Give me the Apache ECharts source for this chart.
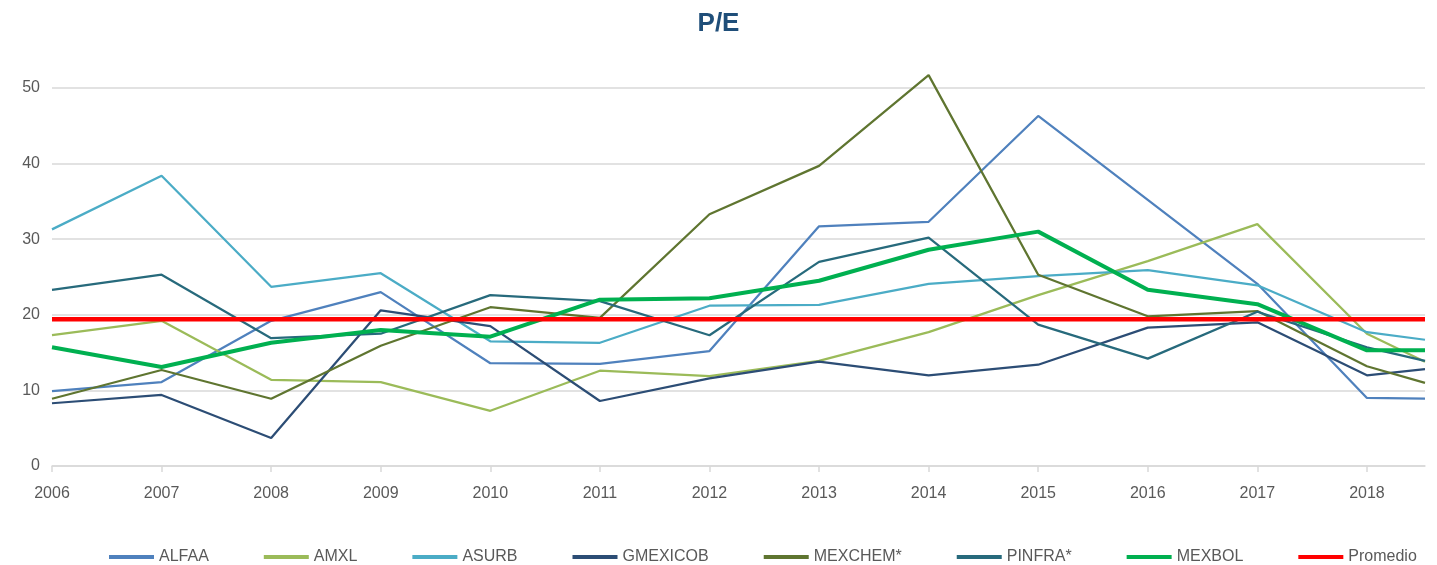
<!DOCTYPE html>
<html>
<head>
<meta charset="utf-8">
<script src="https://cdn.jsdelivr.net/npm/echarts@6/dist/echarts.min.js"></script>
<style>
html, body { margin: 0; padding: 0; background: #fff; }
#chart { width: 1437px; height: 565px; }
</style>
</head>
<body>
<div id="chart"></div>
<script>
// x positions: 2006..2018 plus the partial last period at the right edge
var years = [2006, 2007, 2008, 2009, 2010, 2011, 2012, 2013, 2014, 2015, 2016, 2017, 2018, 2018.53];

var alfaa    = [9.9, 11.1, 19.2, 23.0, 13.6, 13.5, 15.2, 31.7, 32.3, 46.3, 35.2, 24.1, 9.0, 8.9];
var amxl     = [17.3, 19.2, 11.4, 11.1, 7.3, 12.6, 11.9, 13.9, 17.7, 22.6, 27.1, 32.0, 17.5, 13.8];
var asurb    = [31.3, 38.4, 23.7, 25.5, 16.5, 16.3, 21.2, 21.3, 24.1, 25.1, 25.9, 23.9, 17.7, 16.7];
var gmexicob = [8.3, 9.4, 3.7, 20.6, 18.5, 8.6, 11.6, 13.8, 12.0, 13.4, 18.3, 19.0, 12.0, 12.8];
var mexchem  = [8.9, 12.7, 8.9, 15.9, 21.0, 19.6, 33.3, 39.7, 51.7, 25.3, 19.8, 20.5, 13.2, 11.0];
var pinfra   = [23.3, 25.3, 16.9, 17.5, 22.6, 21.8, 17.3, 27.0, 30.2, 18.7, 14.2, 20.4, 15.7, 13.9];
var mexbol   = [15.7, 13.1, 16.3, 18.0, 17.1, 22.0, 22.2, 24.5, 28.6, 31.0, 23.3, 21.4, 15.3, 15.3];
var promedio = [19.4, 19.4, 19.4, 19.4, 19.4, 19.4, 19.4, 19.4, 19.4, 19.4, 19.4, 19.4, 19.4, 19.4];

var font = "'Liberation Sans', sans-serif";

function pairs(vals) {
    return vals.map(function(v, i) { return [years[i], v]; });
}

function makeSeries(name, vals, color, width) {
    return {
        name: name,
        type: 'line',
        data: pairs(vals),
        showSymbol: false,
        symbol: 'none',
        clip: false,
        lineStyle: { color: color, width: width },
        itemStyle: { color: color }
    };
}

var chart = echarts.init(document.getElementById('chart'));
chart.setOption({
    animation: false,
    title: {
        text: 'P/E',
        left: 'center',
        top: 6,
        textStyle: { fontFamily: font, fontSize: 26, fontWeight: 'bold', color: '#1F4E79' }
    },
    grid: { left: 52, right: 12, top: 88, bottom: 99 },
    legend: {
        top: 544,
        left: 104,
        itemWidth: 45,
        itemHeight: 4,
        itemGap: 55,
        icon: 'rect',
        textStyle: { fontFamily: font, fontSize: 16, color: '#595959' },
        data: ['ALFAA', 'AMXL', 'ASURB', 'GMEXICOB', 'MEXCHEM*', 'PINFRA*', 'MEXBOL', 'Promedio']
    },
    xAxis: {
        type: 'value',
        min: 2006,
        max: years[years.length - 1],
        interval: 1,
        axisLine: { lineStyle: { color: '#D9D9D9', width: 1.5 } },
        axisTick: { show: true, length: 6, lineStyle: { color: '#D9D9D9', width: 1.5 } },
        splitLine: { show: false },
        axisLabel: {
            showMaxLabel: false,
            margin: 20,
            fontFamily: font,
            fontSize: 16,
            color: '#595959',
            formatter: function(v) { return v % 1 === 0 ? String(v) : ''; }
        }
    },
    yAxis: {
        type: 'value',
        min: 0,
        max: 50,
        interval: 10,
        axisLine: { show: false },
        axisTick: { show: false },
        splitLine: { lineStyle: { color: '#D9D9D9', width: 1.5 } },
        axisLabel: { margin: 12, fontFamily: font, fontSize: 16, color: '#595959' }
    },
    series: [
        makeSeries('ALFAA', alfaa, '#4F81BD', 2.25),
        makeSeries('AMXL', amxl, '#9BBB59', 2.25),
        makeSeries('ASURB', asurb, '#4BACC6', 2.25),
        makeSeries('GMEXICOB', gmexicob, '#2C4D75', 2.25),
        makeSeries('MEXCHEM*', mexchem, '#5F7530', 2.25),
        makeSeries('PINFRA*', pinfra, '#276A7C', 2.25),
        makeSeries('MEXBOL', mexbol, '#00B050', 4),
        makeSeries('Promedio', promedio, '#FF0000', 4.5)
    ]
});
</script>
</body>
</html>
